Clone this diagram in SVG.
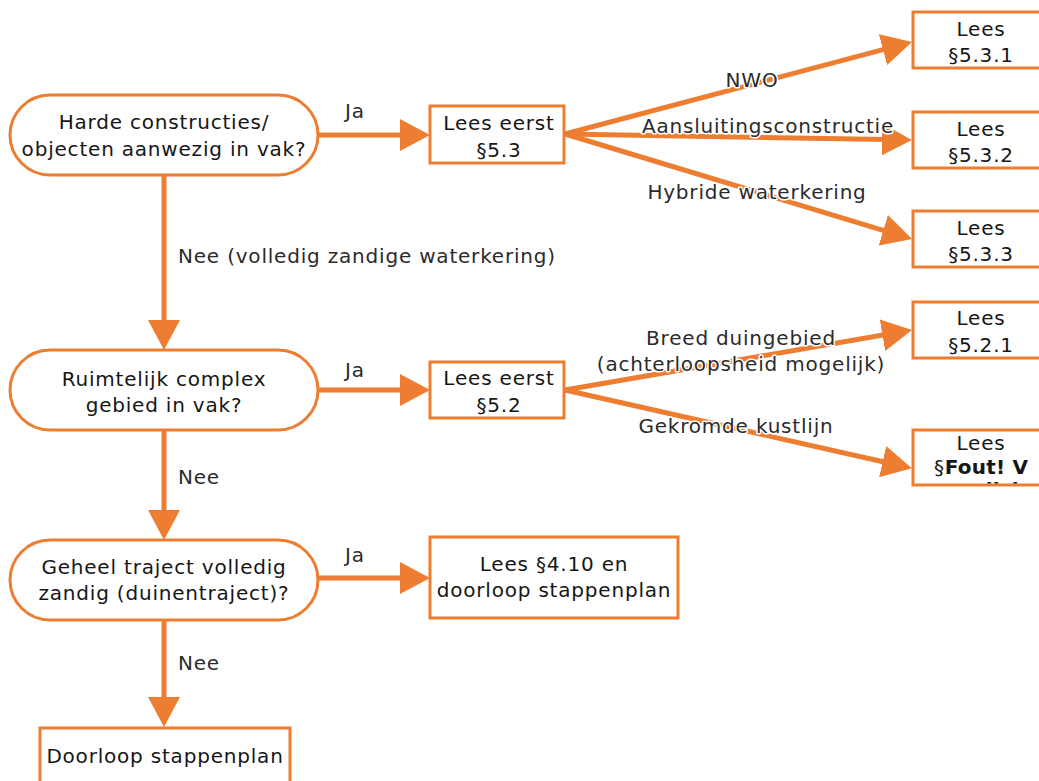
<svg xmlns="http://www.w3.org/2000/svg" width="1039" height="781" viewBox="0 0 1039 781">
  <defs>
    <style>
      .shape { fill: #ffffff; stroke: #ed7d31; stroke-width: 3; }
      .edge { stroke: #ed7d31; stroke-width: 5; fill: none; marker-end: url(#head); }
      text { font-family: "DejaVu Sans", Verdana, sans-serif; font-size: 20px; letter-spacing: 0.8px; fill: #161616; }
      .c { text-anchor: middle; }
      .lbl { fill: #2b2b2b; stroke: #ffffff; stroke-width: 3; paint-order: stroke; stroke-linejoin: round; }
      .b { font-weight: bold; letter-spacing: 0.2px; }
    </style>
    <marker id="head" markerUnits="userSpaceOnUse" markerWidth="30" markerHeight="32" refX="5" refY="16" orient="auto" viewBox="0 0 30 32">
      <path d="M0,0 L30,16 L0,32 Z" fill="#ed7d31"/>
    </marker>
    <clipPath id="clipFout">
      <rect x="913" y="431" width="130" height="52.5"/>
    </clipPath>
  </defs>

  <!-- connectors -->
  <g id="connectors">
    <line class="edge" x1="318" y1="135" x2="405" y2="135"/>
    <line class="edge" x1="565" y1="134" x2="887.8" y2="48.4"/>
    <line class="edge" x1="565" y1="134" x2="887" y2="139.6"/>
    <line class="edge" x1="565" y1="134" x2="888.1" y2="231.8"/>
    <line class="edge" x1="164" y1="175" x2="164" y2="325"/>
    <line class="edge" x1="318" y1="390" x2="405" y2="390"/>
    <line class="edge" x1="565" y1="390" x2="887.4" y2="334.3"/>
    <line class="edge" x1="565" y1="390" x2="887.5" y2="462.8"/>
    <line class="edge" x1="164" y1="430" x2="164" y2="515"/>
    <line class="edge" x1="318" y1="578" x2="405" y2="578"/>
    <line class="edge" x1="164" y1="620" x2="164" y2="702"/>

    <text class="lbl" x="345" y="118">Ja</text>
    <text class="lbl c" x="752" y="87">NWO</text>
    <text class="lbl c" x="768" y="133">Aansluitingsconstructie</text>
    <text class="lbl c" x="757" y="199">Hybride waterkering</text>
    <text class="lbl" x="178" y="263">Nee (volledig zandige waterkering)</text>
    <text class="lbl" x="345" y="377">Ja</text>
    <text class="lbl c" x="741" y="345">Breed duingebied</text>
    <text class="lbl c" x="741" y="371">(achterloopsheid mogelijk)</text>
    <text class="lbl c" x="736" y="433">Gekromde kustlijn</text>
    <text class="lbl" x="178" y="484">Nee</text>
    <text class="lbl" x="345" y="562">Ja</text>
    <text class="lbl" x="178" y="670">Nee</text>
  </g>

  <!-- decision: hard structures -->
  <g id="q-harde">
    <rect class="shape" x="10" y="95" width="308" height="80" rx="40"/>
    <text class="c" x="164" y="129">Harde constructies/</text>
    <text class="c" x="164" y="156">objecten aanwezig in vak?</text>
  </g>

  <g id="lees-5-3">
    <rect class="shape" x="430" y="106" width="134" height="57"/>
    <text class="c" x="499" y="130">Lees eerst</text>
    <text class="c" x="499" y="157">§5.3</text>
  </g>

  <g id="lees-5-3-1">
    <rect class="shape" x="913" y="12" width="130" height="56"/>
    <text class="c" x="981" y="36">Lees</text>
    <text class="c" x="981" y="62">§5.3.1</text>
  </g>

  <g id="lees-5-3-2">
    <rect class="shape" x="913" y="112" width="130" height="56"/>
    <text class="c" x="981" y="136">Lees</text>
    <text class="c" x="981" y="162">§5.3.2</text>
  </g>

  <g id="lees-5-3-3">
    <rect class="shape" x="913" y="211" width="130" height="56"/>
    <text class="c" x="981" y="235">Lees</text>
    <text class="c" x="981" y="261">§5.3.3</text>
  </g>

  <!-- decision: spatially complex area -->
  <g id="q-ruimtelijk">
    <rect class="shape" x="10" y="350" width="308" height="80" rx="40"/>
    <text class="c" x="164" y="386">Ruimtelijk complex</text>
    <text class="c" x="164" y="412">gebied in vak?</text>
  </g>

  <g id="lees-5-2">
    <rect class="shape" x="430" y="362" width="134" height="56"/>
    <text class="c" x="499" y="385">Lees eerst</text>
    <text class="c" x="499" y="412">§5.2</text>
  </g>

  <g id="lees-5-2-1">
    <rect class="shape" x="913" y="302" width="130" height="56"/>
    <text class="c" x="981" y="325">Lees</text>
    <text class="c" x="981" y="352">§5.2.1</text>
  </g>

  <g id="lees-fout">
    <rect class="shape" x="913" y="430" width="130" height="55"/>
    <g clip-path="url(#clipFout)">
      <text class="c" x="981" y="450">Lees</text>
      <text class="c" x="981" y="474">§<tspan class="b">Fout! V</tspan></text>
      <text class="c b" x="981" y="497">erwijzi</text>
    </g>
  </g>

  <!-- decision: whole trajectory sandy -->
  <g id="q-geheel">
    <rect class="shape" x="10" y="540" width="308" height="80" rx="40"/>
    <text class="c" x="164" y="574">Geheel traject volledig</text>
    <text class="c" x="164" y="600">zandig (duinentraject)?</text>
  </g>

  <g id="lees-4-10">
    <rect class="shape" x="430" y="537" width="248" height="81"/>
    <text class="c" x="554" y="571">Lees §4.10 en</text>
    <text class="c" x="554" y="597">doorloop stappenplan</text>
  </g>

  <g id="doorloop">
    <rect class="shape" x="40" y="728" width="250" height="60"/>
    <text class="c" x="165" y="763">Doorloop stappenplan</text>
  </g>
</svg>
